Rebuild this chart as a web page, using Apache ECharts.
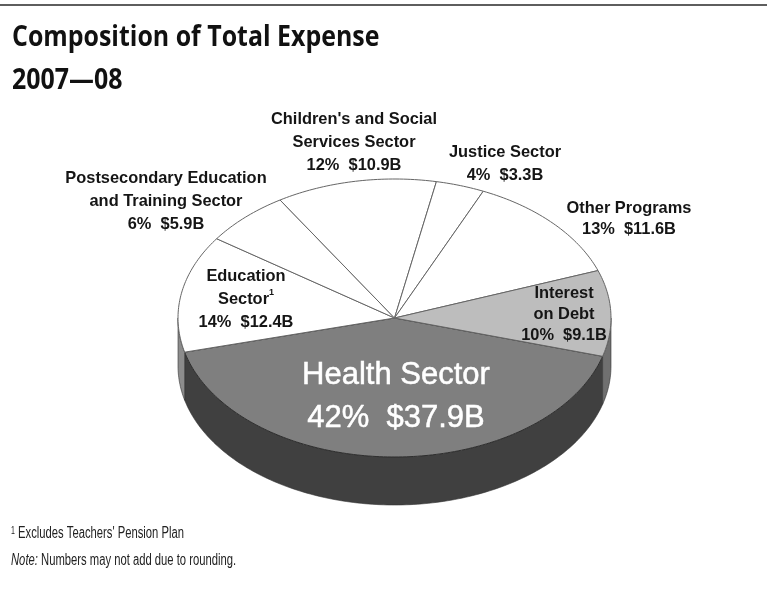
<!DOCTYPE html>
<html>
<head>
<meta charset="utf-8">
<title>Composition of Total Expense</title>
<style>
  html, body { margin: 0; padding: 0; background: #fff; }
  #chart { width: 767px; height: 590px; }
</style>
</head>
<body>
<div id="chart"></div>
<script src="https://cdn.jsdelivr.net/npm/echarts@6/dist/echarts.min.js"></script>
<script>
// values in $B, clockwise starting from the front right of the pie
const sectors = ["Health", "Education", "Postsecondary", "Children", "Justice", "Other", "Interest"];
const amounts = [37.9, 12.4, 5.9, 10.9, 3.3, 11.6, 9.1];
const percents = [42, 14, 6, 12, 4, 13, 10];
const topColors = ["#7f7f7f", "#ffffff", "#ffffff", "#ffffff", "#ffffff", "#ffffff", "#bdbdbd"];
const sideColors = ["#404040", "#8c8c8c", "#8c8c8c", "#8c8c8c", "#8c8c8c", "#707070", "#707070"];

const amountText = amounts.map((v, i) => percents[i] + "%  $" + v.toFixed(1) + "B");

// pie is squashed into an ellipse, so the slices are drawn by a custom series
const cx = 394.5;
const cy = 318;
const rx = 216.5;
const ry = 139;
const depth = 48;
const startDeg = 16;
const total = amounts.reduce((a, b) => a + b, 0);

function rimPoint(deg, drop) {
  const t = (deg * Math.PI) / 180;
  return [cx + rx * Math.cos(t), cy + ry * Math.sin(t) + drop];
}

function arcPoints(from, to, drop) {
  const pts = [];
  const n = Math.max(2, Math.ceil(Math.abs(to - from)));
  for (let i = 0; i <= n; i++) {
    pts.push(rimPoint(from + ((to - from) * i) / n, drop));
  }
  return pts;
}

// only the part of a slice with its rim facing the viewer has a wall
function wallRange(from, to) {
  const a = to > 360 ? Math.max(from, 360) : from;
  const b = to > 360 ? to : Math.min(to, 180);
  return b > a ? [a, b] : null;
}

function renderSlice(params, api) {
  const i = params.dataIndex;
  const before = amounts.slice(0, i).reduce((a, b) => a + b, 0);
  const from = startDeg + (before / total) * 360;
  const to = from + (api.value(0) / total) * 360;
  const children = [];
  const wall = wallRange(from, to);
  if (wall) {
    const upper = arcPoints(wall[0], wall[1], 0);
    const lower = arcPoints(wall[1], wall[0], depth);
    children.push({
      type: "polygon",
      shape: { points: upper.concat(lower) },
      style: { fill: sideColors[i], stroke: "#333333", lineWidth: 0.6 },
    });
  }
  children.push({
    type: "polygon",
    shape: { points: [[cx, cy]].concat(arcPoints(from, to, 0)) },
    style: { fill: topColors[i], stroke: i === 0 ? "#2e2e2e" : "#666666", lineWidth: 1 },
  });
  return { type: "group", children: children };
}

const labelFont = "bold 16.4px 'Liberation Sans', Arial, sans-serif";

function label(x, y, lines, extra) {
  return {
    type: "text",
    x: x,
    y: y,
    z: 10,
    silent: true,
    style: Object.assign(
      {
        text: lines.join("\n"),
        fill: "#151515",
        font: labelFont,
        lineHeight: 23,
        align: "center",
        verticalAlign: "top",
        rich: {
          sup: { font: "bold 9px 'Liberation Sans', Arial, sans-serif", verticalAlign: "top", fill: "#151515" },
        },
      },
      extra || {}
    ),
  };
}

const noteFont = "16px 'Liberation Sans', Arial, sans-serif";

const chart = echarts.init(document.getElementById("chart"), null, { renderer: "canvas" });
chart.setOption({
  animation: false,
  backgroundColor: "#ffffff",
  series: [
    {
      type: "custom",
      coordinateSystem: "none",
      silent: true,
      renderItem: renderSlice,
      data: amounts.map((v) => [v]),
    },
  ],
  graphic: [
    { type: "rect", z: 10, shape: { x: 0, y: 4, width: 767, height: 2 }, style: { fill: "#5e5e5e" }, silent: true },
    {
      type: "text", x: 12, y: 24, z: 10, scaleX: 0.89, silent: true,
      style: { text: "Composition of Total Expense", fill: "#111111", font: "bold 28px 'Open Sans', sans-serif" },
    },
    {
      type: "text", x: 12, y: 67, z: 10, scaleX: 0.89, silent: true,
      style: { text: "2007—08", fill: "#111111", font: "bold 28px 'Open Sans', sans-serif" },
    },
    label(354, 108, ["Children's and Social", "Services Sector", amountText[3]]),
    label(505, 141, ["Justice Sector", amountText[4]]),
    label(629, 198, ["Other Programs", amountText[5]], { lineHeight: 21 }),
    label(166, 167, ["Postsecondary Education", "and Training Sector", amountText[2]]),
    label(246, 265, ["Education", "Sector{sup|1}", amountText[1]]),
    label(564, 283, ["Interest", "on Debt", amountText[6]], { lineHeight: 21 }),
    label(396, 354, ["Health Sector", amountText[0]], {
      fill: "#ffffff",
      stroke: "#ffffff",
      lineWidth: 0.5,
      font: "31px 'Liberation Sans', Arial, sans-serif",
      lineHeight: 43,
    }),
    {
      type: "text", x: 11, y: 526, z: 10, scaleX: 0.703, silent: true,
      style: { text: "{s|1} Excludes Teachers' Pension Plan", fill: "#222222", font: noteFont,
        rich: { s: { font: "10px 'Liberation Sans', sans-serif", fill: "#222222", verticalAlign: "top" } } },
    },
    {
      type: "text", x: 11, y: 553, z: 10, scaleX: 0.703, silent: true,
      style: { text: "{i|Note:} Numbers may not add due to rounding.", fill: "#222222", font: noteFont,
        rich: { i: { font: "italic " + noteFont, fill: "#222222" } } },
    },
  ],
});
</script>
</body>
</html>
